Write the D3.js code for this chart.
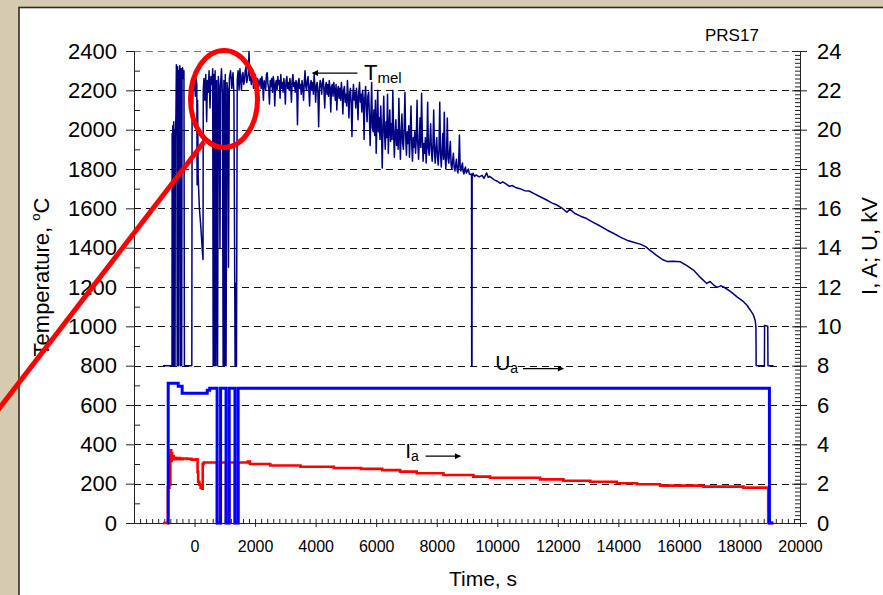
<!DOCTYPE html>
<html>
<head>
<meta charset="utf-8">
<script src="https://cdn.jsdelivr.net/npm/d3@7"></script>
<style>
  html, body { margin: 0; padding: 0; background: #d6cab0; }
  svg { display: block; font-family: "Liberation Sans", Arial, sans-serif; }
</style>
</head>
<body>
<svg id="chart" width="883" height="595"></svg>
<script>
// ---- Pyrometer temperature, °C (time in s) ----
// start-up: arc ignition with repeated dropouts to the 800 °C pyrometer floor
const tempStartup = [
  [-1040,800],[-745,800],[-740,1980],[-728,1890],[-718,2020],[-708,800],[-698,1940],[-688,2040],
  [-678,800],[-668,1910],[-655,2000],[-645,800],[-635,1960],[-615,2070],[-600,2330],[-585,2290],
  [-572,800],[-560,2320],[-545,2270],[-532,800],[-520,2300],[-500,2250],[-485,2325],[-470,800],
  [-458,2290],[-440,2310],[-425,800],[-412,2280],[-395,2315],[-370,2260],[-350,2300],[-335,800],
  [-90,800],[-80,2250],[-60,2130],[-45,2270],[-25,2200],[0,2290],[25,2170],[50,2260],[75,2230],
  [85,1720],[100,2150],[120,1760],[160,1600],[210,1500],[260,1380],[280,1340],[288,2200],
  [310,2260],[340,2150],[370,2280],[400,2040],[425,2250],[450,2190],[480,2300],[510,2110],
  [540,2270],[575,2230],[600,2310],[615,800],[635,2280],[655,800],[680,2300],[705,800],
  [730,2250],[760,800],[785,2270],[815,2200],[840,1400],[860,2230],[890,2310],[920,2180],
  [945,800],[970,2250],[990,800],[1015,2280],[1040,800],[1070,2240],[1100,2200],[1120,1300],
  [1150,2260],[1190,2300],[1230,2210],[1270,2290],[1300,2180],[1340,800],[1370,1220],[1385,800],
  [1410,2250],[1440,2300],[1470,2200]
];
// melting stage: noisy signal around the melt temperature
const tempMelting = [
  [1500,2310],[1525,2250],[1550,2200],[1575,2280],[1600,2290],[1625,2230],[1650,2250],[1675,2300],
  [1700,2320],[1725,2240],[1750,2260],[1775,2280],[1800,2397],[1825,2250],[1850,2270],[1875,2230],
  [1900,2300],[1925,2260],[1950,2210],[1975,2270],[2000,2280],[2025,2240],[2050,2190],[2075,2260],
  [2100,2250],[2125,2220],[2150,2240],[2175,2260],[2200,2210],[2225,2270],[2250,2230],[2275,2150],
  [2300,2250],[2325,2240],[2350,2200],[2375,2280],[2400,2290],[2425,2230],[2450,2210],[2475,2130],
  [2500,2250],[2525,2220],[2550,2260],[2575,2190],[2600,2270],[2625,2240],[2650,2120],[2675,2230],
  [2700,2250],[2725,2200],[2750,2270],[2775,2230],[2800,2250],[2825,2160],[2850,2280],[2875,2210],
  [2900,2240],[2925,2190],[2950,2260],[2975,2220],[3000,2130],[3025,2250],[3050,2270],[3075,2210],
  [3100,2240],[3125,2200],[3150,2260],[3175,2230],[3200,2140],[3225,2250],[3250,2280],[3275,2220],
  [3300,2240],[3325,2190],[3350,2250],[3375,2230],[3400,2025],[3425,2240],[3450,2260],[3475,2210],
  [3500,2230],[3525,2180],[3550,2250],[3575,2220],[3600,2150],[3625,2240],[3650,2300],[3675,2220],
  [3700,2200],[3725,2250],[3750,2270],[3775,2210],[3800,2120],[3825,2230],[3850,2250],[3875,2200],
  [3900,2240],[3925,2180],[3950,2280],[3975,2230],[4000,2140],[4025,2220],[4050,2240],[4075,2190],
  [4100,2015],[4125,2210],[4150,2250],[4175,2230],[4200,2180],[4225,2240],[4250,2260],[4275,2200],
  [4300,2110],[4325,2220],[4350,2240],[4375,2180],[4400,2230],[4425,2170],[4450,2250],[4475,2210],
  [4500,2090],[4525,2220],[4550,2230],[4575,2170],[4600,2240],[4625,2200],[4650,2150],[4675,2230],
  [4700,2100],[4725,2200],[4750,2220],[4775,2160],[4800,2210],[4825,2150],[4850,2240],[4875,2190],
  [4900,2080],[4925,2200],[4950,2220],[4975,2140],[5000,2180],[5025,2120],[5050,2250],[5075,2170],
  [5100,2060],[5125,2190],[5150,2210],[5175,2130],[5200,1965],[5225,2170],[5250,2230],[5275,2150],
  [5300,2190],[5325,2110],[5350,2210],[5375,2160],[5400,2050],[5425,2190],[5450,2240],[5475,2140],
  [5500,2180],[5525,2090],[5550,2200],[5575,2150],[5600,1950],[5625,2160],[5650,2220],[5675,2120],
  [5700,2040],[5725,2170],[5750,2190],[5775,2080],[5800,1920],[5825,2060],[5850,2240],[5875,2010],
  [5900,1990],[5925,2100],[5950,1970],[5975,2150],[6000,1880],[6025,2030],[6050,2200],[6075,1990],
  [6100,2060],[6125,1950],[6150,2120],[6175,2000],[6200,1805],[6225,2020],[6250,2170],[6275,1980],
  [6300,1900],[6325,2040],[6350,1960],[6375,2180],[6400,1880],[6425,2010],[6450,2100],[6475,1940],
  [6500,2030],[6525,1950],[6550,2200],[6575,1990],[6600,1860],[6625,1980],[6650,2050],[6675,1920],
  [6700,2000],[6725,1900],[6750,2160],[6775,1970],[6800,1850],[6825,1990],[6850,2080],[6875,1930],
  [6900,1900],[6925,2010],[6950,2190],[6975,1960],[7000,1870],[7025,1990],[7050,1930],[7075,2020],
  [7100,1860],[7125,1980],[7150,2120],[7175,1920],[7200,1840],[7225,1960],[7250,1910],[7275,1990],
  [7300,1880],[7325,1950],[7350,2150],[7375,1930],[7400,1850],[7425,1940],[7450,2060],[7475,1910],
  [7500,2185],[7525,1960],[7550,1840],[7575,1930],[7600,1880],[7625,1960],[7650,1830],[7675,1920],
  [7700,2140],[7725,1900],[7750,1870],[7775,1940],[7800,2030],[7825,1890],[7850,1840],[7875,1920],
  [7900,2100],[7925,1890],[7950,1830],[7975,1910],[8000,1960],[8025,1860],[8050,1820],[8075,1900],
  [8100,2140],[8125,1880],[8150,1810],[8175,1890],[8200,1980],[8225,1850],[8250,2088],[8275,1870],
  [8300,1800],[8325,1880],[8350,2059],[8375,1850],[8400,1830],[8425,1890],[8450,1940],[8475,1820],
  [8500,1800],[8525,1840],[8550,1880],[8575,1810],[8600,1790],[8625,1820],[8650,1850],[8675,1795],
  [8700,1780],[8725,1830],[8750,1973],[8775,1800],[8800,1790],[8825,1815],[8850,1830],[8875,1785],
  [8900,1775],[8925,1800],[8950,1810],[8975,1780],[9000,1785],[9025,1795],[9050,1800],[9075,1775],
  [9100,1772]
];
// cooling of the ingot after the power reduction
const tempCooling = [
  [9150,1775],[9155,800],[9165,800],[9170,1765],[9200,1778],[9250,1762],[9300,1770],[9400,1760],
  [9500,1768],[9560,1752],[9650,1780],[9700,1758],[9750,1762],[9900,1745],[10000,1738],
  [10100,1727],[10180,1735],[10250,1728],[10400,1712],[10500,1716],[10600,1706],[10750,1700],
  [10900,1690],[11050,1688],[11200,1676],[11400,1660],[11600,1645],[11800,1628],[11970,1617],
  [12150,1600],[12300,1580],[12400,1596],[12550,1575],[12750,1560],[12950,1548],[13150,1530],
  [13400,1510],[13620,1490],[13850,1472],[14050,1455],[14280,1438],[14500,1428],[14720,1418],
  [14900,1405],[15050,1386],[15250,1362],[15450,1340],[15600,1330],[15800,1331],[16050,1328],
  [16250,1310],[16480,1286],[16700,1250],[16920,1218],[17030,1228],[17150,1210],[17260,1198],
  [17380,1206],[17480,1200],[17700,1178],[17920,1150],[18100,1130],[18250,1107],[18360,1082],
  [18460,1058],[18520,1030],[18545,995],[18552,800],[18825,800],[18830,1005],[18935,1000],
  [18942,800],[19125,800]
];

// ---- Accelerating voltage Ua, kV (step changes) ----
const voltageUa = [
  [-900,0],[-870,7.1],[-560,7.1],[-540,6.95],[-430,6.95],[-410,6.6],[340,6.6],[420,6.75],
  [500,6.85],[745,0],[860,6.85],[1040,0],[1145,6.85],[1335,0],[1440,6.85],[18990,0],[19120,0]
];

// ---- Beam current Ia, A (step changes) ----
const currentIa = [
  [-1040,0],[-880,1.8],[-830,1.95],[-800,3.4],[-785,3.7],[-770,3.15],[-755,3.55],[-740,3.3],
  [-715,3.4],[-690,3.25],[-660,3.32],[-620,3.25],[-560,3.3],[-470,3.24],[-380,3.28],[-250,3.26],
  [-100,3.22],[70,3.24],[100,2.6],[120,2.1],[160,1.95],[200,1.8],[250,1.75],[270,3.0],[300,3.08],
  [745,0],[860,3.08],[1040,0],[1145,3.08],[1335,0],[1440,3.08],[1760,3.12],[1830,3.0],[2500,2.92],
  [3500,2.86],[4600,2.8],[5500,2.75],[6200,2.69],[6790,2.61],[7340,2.53],[8220,2.44],[9210,2.36],
  [9760,2.3],[11415,2.22],[12185,2.15],[13070,2.1],[13950,2.02],[14610,1.97],[15380,1.9],
  [16810,1.85],[18130,1.8],[18950,0],[19120,0]
];

// ---- Axis ticks ----
const tempTicks  = [0,200,400,600,800,1000,1200,1400,1600,1800,2000,2200,2400];
const rightTicks = [0,2,4,6,8,10,12,14,16,18,20,22,24];
const timeTicks  = [0,2000,4000,6000,8000,10000,12000,14000,16000,18000,20000];

const svg = d3.select("#chart");
const W = 883, H = 595;
const L = 134, R = 800, T = 51, B = 523;

const x  = d3.scaleLinear().domain([-2000, 20000]).range([L, R]);
const yT = d3.scaleLinear().domain([0, 2400]).range([B, T]);
const yR = d3.scaleLinear().domain([0, 24]).range([B, T]);

// textured backdrop and the white card
svg.append("rect").attr("width", W).attr("height", H).attr("fill", "#d6cab0");
svg.append("rect").attr("x", 19).attr("y", 7.5).attr("width", W).attr("height", H)
  .attr("fill", "#ffffff").attr("stroke", "#2b2b2b").attr("stroke-width", 1.6);

// dashed horizontal grid
svg.append("g").selectAll("line")
  .data(tempTicks.filter(d => d > 0))
  .join("line")
  .attr("x1", L).attr("x2", R)
  .attr("y1", d => Math.round(yT(d)) + 0.5).attr("y2", d => Math.round(yT(d)) + 0.5)
  .attr("stroke", d => d === 2400 ? "#777" : "#111")
  .attr("stroke-width", 1)
  .attr("stroke-dasharray", "7,5");

function styleAxis(g, fontSize) {
  g.select(".domain").attr("stroke", "#222").attr("stroke-width", 1);
  g.selectAll(".tick line").attr("stroke", "#222").attr("stroke-width", 1);
  g.selectAll("text").attr("fill", "#000").attr("font-size", fontSize)
    .attr("font-family", "'Liberation Sans', Arial, sans-serif");
}

// left axis: major ticks outside with labels, minor ticks inside
const minorT = d3.range(100, 2400, 200);
svg.append("g").attr("transform", `translate(${L},0)`)
  .call(d3.axisRight(yT).tickValues(minorT).tickSize(6).tickSizeOuter(0).tickFormat(""))
  .call(g => styleAxis(g, 22));
svg.append("g").attr("transform", `translate(${L},0)`)
  .call(d3.axisLeft(yT).tickValues(tempTicks).tickSize(8).tickSizeOuter(0).tickPadding(9)
    .tickFormat(d3.format("d")))
  .call(g => styleAxis(g, 22));

// right axis: dense minor ticks inside, major ticks crossing, labels outside
const minorR = d3.range(0, 24.001, 0.2).map(v => +v.toFixed(1));
svg.append("g").attr("transform", `translate(${R},0)`)
  .call(d3.axisLeft(yR).tickValues(minorR).tickSize(5).tickSizeOuter(0).tickFormat(""))
  .call(g => styleAxis(g, 22));
svg.append("g").attr("transform", `translate(${R},0)`)
  .call(d3.axisLeft(yR).tickValues(rightTicks).tickSize(8).tickSizeOuter(0).tickFormat(""))
  .call(g => styleAxis(g, 22));
svg.append("g").attr("transform", `translate(${R},0)`)
  .call(d3.axisRight(yR).tickValues(rightTicks).tickSize(7).tickSizeOuter(0).tickPadding(10)
    .tickFormat(d3.format("d")))
  .call(g => styleAxis(g, 22));

// bottom axis: minor ticks every 200 s inside, major crossing
const minorX = d3.range(-2000, 20001, 200);
svg.append("g").attr("transform", `translate(0,${B})`)
  .call(d3.axisTop(x).tickValues(minorX).tickSize(4).tickSizeOuter(0).tickFormat(""))
  .call(g => styleAxis(g, 16));
svg.append("g").attr("transform", `translate(0,${B})`)
  .call(d3.axisBottom(x).tickValues(timeTicks).tickSize(4).tickSizeOuter(0).tickPadding(14)
    .tickFormat(d3.format("d")))
  .call(g => styleAxis(g, 16));

// series
const tempAll = tempStartup.concat(tempMelting, tempCooling);
const tempLine = d3.line().x(d => x(d[0])).y(d => yT(d[1]));
const stepLine = d3.line().x(d => x(d[0])).y(d => yR(d[1])).curve(d3.curveStepAfter);

svg.append("path").datum(tempAll)
  .attr("d", tempLine).attr("fill", "none")
  .attr("stroke", "#000080").attr("stroke-width", 1.5).attr("stroke-linejoin", "round");

svg.append("path").datum(currentIa)
  .attr("d", stepLine).attr("fill", "none")
  .attr("stroke", "#ff0000").attr("stroke-width", 2.6);

svg.append("path").datum(voltageUa)
  .attr("d", stepLine).attr("fill", "none")
  .attr("stroke", "#0000ff").attr("stroke-width", 3);

// arrow markers
const defs = svg.append("defs");
defs.append("marker").attr("id", "arrowHead")
  .attr("viewBox", "0 0 10 10").attr("refX", 9).attr("refY", 5)
  .attr("markerWidth", 7).attr("markerHeight", 6).attr("markerUnits", "userSpaceOnUse")
  .attr("orient", "auto")
  .append("path").attr("d", "M0,0 L10,5 L0,10 Z").attr("fill", "#000");

function arrow(x1, y1, x2, y2) {
  svg.append("line").attr("x1", x1).attr("y1", y1).attr("x2", x2).attr("y2", y2)
    .attr("stroke", "#000").attr("stroke-width", 1.2).attr("marker-end", "url(#arrowHead)");
}
function subLabel(px, py, main, sub, mainSize, subSize, subDrop) {
  const t = svg.append("text").attr("x", px).attr("y", py)
    .attr("font-size", mainSize).attr("fill", "#000");
  t.append("tspan").text(main);
  t.append("tspan").attr("font-size", subSize).attr("dy", subDrop).text(sub);
}

// T_mel pointer
arrow(x(5380), yT(2288), x(3900), yT(2288));
subLabel(x(5600), 79.5, "T", "mel", 22, 15, 3.5);
// U_a pointer
subLabel(x(9930), 370, "U", "a", 21, 14, 3);
arrow(x(10850), yR(7.85), x(12180), yR(7.85));
// I_a pointer
subLabel(x(6960), 458, "I", "a", 21, 14, 3);
arrow(x(7630), yR(3.4), x(8780), yR(3.4));

// run id
svg.append("text").attr("x", 705).attr("y", 41).attr("font-size", 17).text("PRS17");

// axis titles
svg.append("text").attr("transform", "translate(483,586)").attr("text-anchor", "middle")
  .attr("font-size", 21).text("Time, s");

const yTitle = svg.append("text").attr("transform", "translate(49,277) rotate(-90)")
  .attr("text-anchor", "middle").attr("font-size", 22);
yTitle.append("tspan").text("Temperature, ");
yTitle.append("tspan").attr("font-size", 13).attr("dy", -9).text("o");
yTitle.append("tspan").attr("dy", 9).text("C");

svg.append("text").attr("transform", "translate(877,246) rotate(-90)")
  .attr("text-anchor", "middle").attr("font-size", 22).text("I, A; U, kV");

// red highlight of the start-up region with its leader line
svg.append("ellipse").attr("cx", 224).attr("cy", 99).attr("rx", 33.5).attr("ry", 48.5)
  .attr("fill", "none").attr("stroke", "#ff0000").attr("stroke-width", 5);
svg.append("line").attr("x1", 204).attr("y1", 142).attr("x2", -2).attr("y2", 410)
  .attr("stroke", "#ff0000").attr("stroke-width", 5);
</script>
</body>
</html>
